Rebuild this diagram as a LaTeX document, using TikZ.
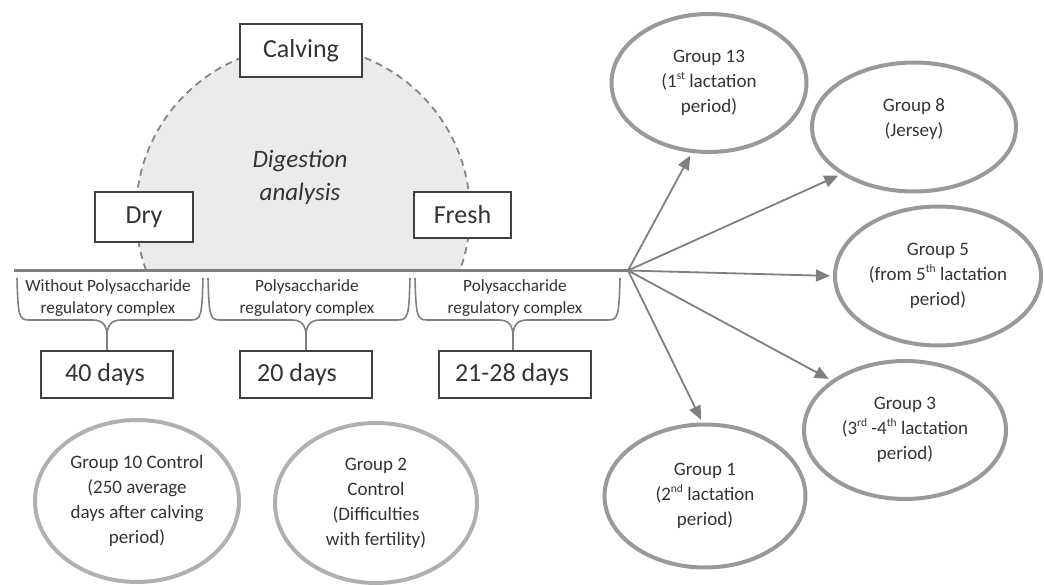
\documentclass[tikz,border=0pt]{standalone}
\usepackage{fontspec}
\setmainfont{Carlito}
\usetikzlibrary{shapes.geometric,arrows.meta}
\definecolor{linegray}{HTML}{7F7F7F}
\definecolor{ringgray}{HTML}{999999}
\definecolor{ringlight}{HTML}{B0B0B0}
\definecolor{boxdark}{HTML}{404040}
\definecolor{txt}{HTML}{333333}
\definecolor{fillgray}{HTML}{EBEBEB}
\definecolor{dashgray}{HTML}{858585}
\newcommand\sups[1]{\raisebox{0.42em}{\fontsize{11.5}{12}\selectfont #1}}
\newcommand\mybrace[4]{%
  \draw[bracestyle] (#1,278) .. controls ({#1+1},316) and ({#1+2},320) .. ({#1+12},320) -- ({#3-14},320) .. controls ({#3-4},320) and (#3,326) .. (#3,336);
  \draw[bracestyle] (#2,278) .. controls ({#2-1},316) and ({#2-2},320) .. ({#2-12},320) -- ({#3+14},320) .. controls ({#3+4},320) and (#3,326) .. (#3,336);
  \coordinate (#4) at (#3,336);}
\begin{document}
\begin{tikzpicture}[x=1pt,y=-1pt,
  labelbox/.style={draw=boxdark, line width=1.2pt, fill=white, font=\fontsize{26}{30}\selectfont, text=txt, inner sep=0pt},
  grp/.style={ellipse, draw=ringgray, line width=4pt, align=center, font=\fontsize{19}{25}\selectfont, text=txt, inner sep=0pt},
  grptext/.style={align=center, font=\fontsize{19}{25}\selectfont, text=txt, inner sep=0pt},
  arr/.style={draw=linegray, line width=1.8pt, shorten >=3pt, -{Triangle[length=14pt,width=12pt]}},
  mainline/.style={draw=linegray, line width=2.8pt},
  bracestyle/.style={draw=linegray, line width=1.6pt},
  bracetext/.style={font=\fontsize{17.2}{22.5}\selectfont, align=center, text=txt, inner sep=0pt}]
\useasboundingbox (0,0) rectangle (1045,585);
% digestion semicircle
\begin{scope}
  \clip (0,0) rectangle (1045,270.5);
  \fill[fillgray] (303,213) circle[radius=167pt];
  \draw[dashgray, line width=1.8pt, dash pattern=on 7pt off 5pt] (303,213) circle[radius=167pt];
\end{scope}
\node[font=\itshape\fontsize{25}{33}\selectfont, align=center, text=txt] (dig) at (300,177) {Digestion\\analysis};
% main timeline
\coordinate (start) at (14,270.5);
\coordinate (hub) at (628,270.5);
\draw[mainline] (start) -- (hub);
% phase boxes
\node[labelbox, minimum width=122pt, minimum height=53pt] (calving) at (301,50.5) {Calving};
\node[labelbox, minimum width=98pt, minimum height=50pt] (dry) at (144,217) {Dry};
\node[labelbox, minimum width=97pt, minimum height=46pt] (fresh) at (462.5,215) {Fresh};
% braces
\mybrace{17}{203}{107}{t1}
\mybrace{208}{410}{306}{t2}
\mybrace{415}{620}{513}{t3}
\node[bracetext] (b1t) at (108,298) {Without Polysaccharide\\regulatory complex};
\node[bracetext] (b2t) at (307,298) {Polysaccharide\\regulatory complex};
\node[bracetext] (b3t) at (515,298) {Polysaccharide\\regulatory complex};
% day boxes
\node[labelbox, minimum width=132pt, minimum height=47pt] (d40) at (107,374.5) {\hspace*{-4pt}40 days};
\node[labelbox, minimum width=132pt, minimum height=47pt] (d20) at (306,374.5) {\hspace*{-18pt}20 days};
\node[labelbox, minimum width=152pt, minimum height=47pt] (d2128) at (515,374.5) {\hspace*{-6pt}21-28 days};
\draw[bracestyle] (t1) -- (t1 |- d40.north);
\draw[bracestyle] (t2) -- (t2 |- d20.north);
\draw[bracestyle] (t3) -- (t3 |- d2128.north);
% control groups
\node[grp, draw=ringlight, minimum width=204pt, minimum height=162pt] (g10) at (137,501) {Group 10 Control\\(250 average\\days after calving\\period)};
\node[grp, draw=ringlight, minimum width=202pt, minimum height=160pt] (g2) at (376,503) {Group 2\\Control\\(Difficulties\\with fertility)};
% experimental groups
\node[grp, minimum width=195pt, minimum height=138pt] (g13) at (709,83) {Group 13\\(1\sups{st} lactation\\period)};
\node[grp, minimum width=204pt, minimum height=129pt] (g8) at (914,127) {};
\node[grptext] (g8t) at (914,119.5) {Group 8\\(Jersey)};
\node[grp, minimum width=206pt, minimum height=139pt] (g5) at (938,276) {Group 5\\(from 5\sups{th} lactation\\period)};
\node[grp, minimum width=202pt, minimum height=138pt] (g3) at (905,430) {Group 3\\(3\sups{rd} -4\sups{th} lactation\\period)};
\node[grp, minimum width=201pt, minimum height=143pt] (g1) at (705,496) {Group 1\\(2\sups{nd} lactation\\period)};
% arrows
\draw[arr] (hub) -- (g13.256);
\draw[arr] (hub) -- (g8.213);
\draw[arr] (hub) -- (g5.180);
\draw[arr] (hub) -- (g3.146);
\draw[arr] (hub) -- (g1.92);
\end{tikzpicture}
\end{document}
